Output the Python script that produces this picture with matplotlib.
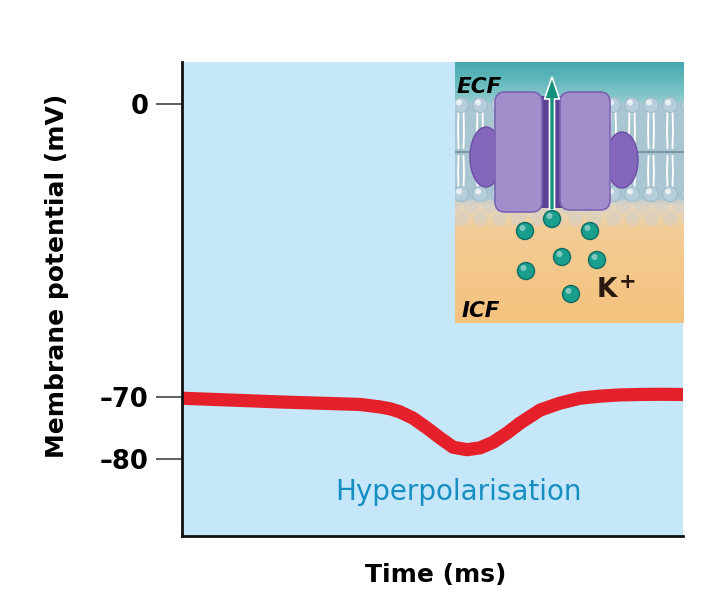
import matplotlib
matplotlib.use("Agg")
import matplotlib.pyplot as plt
import matplotlib.patches as mpatches
from matplotlib.colors import to_rgb
import numpy as np

# membrane potential trace
time_ms = [0.0, 1.0, 1.96, 2.95, 3.55, 3.95, 4.15, 4.35, 4.61, 4.89, 5.15, 5.41,
           5.69, 5.95, 6.21, 6.49, 6.75, 7.15, 7.54, 7.94, 8.34, 8.74, 9.14,
           9.54, 10.0]
potential_mv = [-70.2, -70.5, -70.8, -71.05, -71.2, -71.6, -71.9, -72.4, -73.4,
                -75.0, -76.6, -78.1, -78.5, -78.2, -77.3, -75.8, -74.2, -72.1,
                -71.0, -70.2, -69.8, -69.5, -69.4, -69.35, -69.4]

ytick_values = [0, -70, -80]
ytick_labels = ["0", "\u201370", "\u201380"]

# K+ ions in the inset (inset pixel coords)
ion_x = [552, 525, 590, 562, 597, 526, 571]
ion_y = [219, 231, 231, 257, 260, 271, 294]

W, H = 712, 601


def fx(px):
    return px / W


def fy(py):
    return 1 - py / H


# piecewise axis: 0..-70 compressed, -70..-80 stretched
y_vals = np.array([-92.4, -80, -70, 0, 10])
y_screen = np.array([0, 77, 139, 432, 474])


def forward(v):
    return np.interp(v, y_vals, y_screen)


def inverse(s):
    return np.interp(s, y_screen, y_vals)


fig = plt.figure(figsize=(W / 100, H / 100), dpi=100)
ax = fig.add_axes([fx(182), fy(536), fx(683) - fx(182), fy(62) - fy(536)])
ax.set_facecolor("#c6e7f9")
ax.set_yscale("function", functions=(forward, inverse))
ax.set_ylim(-92.4, 10)
ax.set_xlim(0, 10)

ax.plot(time_ms, potential_mv, color="#e5202a", lw=9.5,
        solid_capstyle="butt", solid_joinstyle="round")

for s in ["top", "right"]:
    ax.spines[s].set_visible(False)
for s in ["left", "bottom"]:
    ax.spines[s].set_linewidth(2)
    ax.spines[s].set_color("#111111")

ax.set_xticks([])
ax.set_yticks(ytick_values)
ax.set_yticklabels(ytick_labels, fontsize=18.5, fontweight="bold")
ax.yaxis.set_minor_locator(matplotlib.ticker.NullLocator())
ax.tick_params(axis="y", length=19, width=1.1, color="#333333", pad=5)

fig.text(fx(57), fy(276), "Membrane potential (mV)", rotation=90,
         ha="center", va="center", fontsize=18, fontweight="bold")
fig.text(fx(436), fy(575), "Time (ms)", ha="center", va="center",
         fontsize=18, fontweight="bold")
fig.text(fx(459), fy(492), "Hyperpolarisation", ha="center", va="center",
         fontsize=20, color="#168ec2")

# ---- inset: potassium channel illustration ----
ins = fig.add_axes([fx(455), fy(323), fx(684) - fx(455), fy(62) - fy(323)])
ins.set_xlim(455, 684)
ins.set_ylim(323, 62)
ins.axis("off")

stops_y = [62, 80, 100, 104, 198, 206, 230, 323]
stops_c = ["#45a9af", "#62b9bc", "#8fcbce", "#a9c6d2", "#a9c6d2",
           "#e4d7c0", "#f2cc96", "#f4c27c"]
rows = np.arange(62, 324)
rgb = np.array([to_rgb(c) for c in stops_c])
grad = np.stack([np.interp(rows, stops_y, rgb[:, k]) for k in range(3)], axis=-1)
ins.imshow(grad[:, None, :], extent=(455, 684, 323, 62), aspect="auto", zorder=0)

# faded lipid lattice just under the membrane
for row, yy in enumerate([207, 219]):
    for xx in np.arange(452 + row * 9.5, 690, 19):
        ins.add_patch(mpatches.Circle((xx, yy), 7, fc="#d4d0c8", ec="none",
                                      alpha=0.55, zorder=1))

# bilayer: tails and heads
ins.plot([455, 684], [152, 152], color="#7d98a4", lw=1.5, zorder=1)
for xx in np.arange(461, 690, 19):
    for dx in (-2.5, 2.5):
        ins.plot([xx + dx, xx + dx * 1.2, xx + dx], [112, 130, 148],
                 color="white", lw=1.3, zorder=1)
        ins.plot([xx + dx, xx + dx * 1.2, xx + dx], [156, 172, 188],
                 color="white", lw=1.3, zorder=1)
    for yy in (105, 194):
        ins.add_patch(mpatches.Circle((xx, yy), 7.5, fc="#b6cedb", ec="#9bb6c4",
                                      lw=0.6, zorder=2))
        ins.add_patch(mpatches.Circle((xx - 2, yy - 2.5), 3, fc="white",
                                      ec="none", alpha=0.7, zorder=2))

# channel protein
ins.add_patch(mpatches.Ellipse((486, 157), 32, 60, fc="#8466bb", ec="#6a4ea6",
                               lw=1, zorder=3))
ins.add_patch(mpatches.Ellipse((622, 160), 32, 56, fc="#8466bb", ec="#6a4ea6",
                               lw=1, zorder=3))
ins.add_patch(mpatches.FancyBboxPatch((528, 96), 44, 112,
                                      boxstyle="round,pad=0,rounding_size=8",
                                      fc="#5c4296", ec="none", zorder=3))
for bx, bw, bh in [(495, 47, 120), (560, 50, 118)]:
    ins.add_patch(mpatches.FancyBboxPatch((bx, 92), bw, bh,
                                          boxstyle="round,pad=0,rounding_size=10",
                                          fc="#a28ecb", ec="#7b63b2", lw=1.2,
                                          zorder=4))

ins.add_patch(mpatches.FancyArrow(552, 210, 0, -133, width=5, head_width=15,
                                  head_length=22, length_includes_head=True,
                                  fc="#10907a", ec="white", lw=1.2, zorder=5))

for xx, yy in zip(ion_x, ion_y):
    ins.add_patch(mpatches.Circle((xx, yy), 8.5, fc="#1a9e8e", ec="#0d6d62",
                                  lw=1, zorder=6))
    ins.add_patch(mpatches.Circle((xx - 2.5, yy - 3), 3, fc="white", ec="none",
                                  alpha=0.45, zorder=6))

ins.text(457, 87, "ECF", fontsize=15.5, fontweight="bold", fontstyle="italic",
         ha="left", va="center", zorder=7)
ins.text(462, 311, "ICF", fontsize=15.5, fontweight="bold", fontstyle="italic",
         ha="left", va="center", zorder=7)
ins.text(597, 290, "K", fontsize=19, fontweight="bold", color="#2a1a10",
         ha="left", va="center", zorder=7)
ins.text(619, 282, "+", fontsize=15, fontweight="bold", color="#2a1a10",
         ha="left", va="center", zorder=7)

plt.savefig("out.png", dpi=100)
